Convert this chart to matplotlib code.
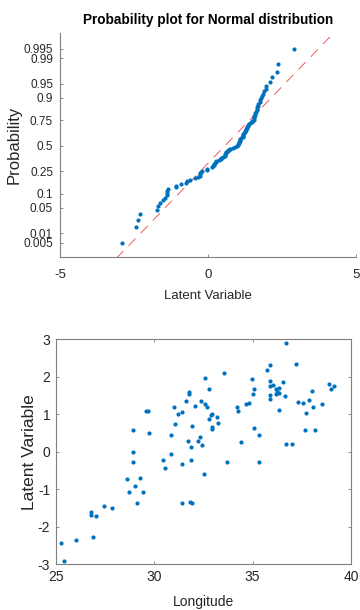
import numpy as np
import matplotlib
matplotlib.use('Agg')
import matplotlib.pyplot as plt
from statistics import NormalDist
import warnings
warnings.filterwarnings('ignore')

longitude = np.array([
    25.27, 25.41, 26.02, 26.79, 26.79, 26.90, 27.03, 27.47, 27.84, 28.64,
    28.72, 28.94, 28.94, 28.94, 29.03, 29.15, 29.30, 29.45, 29.60, 29.67,
    29.74, 30.47, 30.55, 30.84, 30.84, 30.99, 31.06, 31.21, 31.42, 31.42,
    31.43, 31.64, 31.72, 31.79, 31.79, 31.80, 31.87, 31.87, 31.94, 31.94,
    32.09, 32.25, 32.31, 32.38, 32.45, 32.52, 32.60, 32.60, 32.67, 32.80,
    32.80, 32.87, 32.94, 32.96, 32.96, 33.18, 33.24, 33.55, 33.70, 34.21,
    34.28, 34.43, 34.65, 34.80, 34.95, 35.02, 35.09, 35.09, 35.31, 35.31,
    35.75, 35.90, 35.90, 35.90, 35.90, 35.90, 36.05, 36.19, 36.19, 36.26,
    36.34, 36.34, 36.34, 36.56, 36.63, 36.70, 36.70, 37.00, 37.21, 37.29,
    37.58, 37.65, 37.73, 37.87, 38.02, 38.09, 38.17, 38.53, 38.90, 38.97,
    39.12])
latent = np.array([
    -2.44, -2.91, -2.36, -1.61, -1.69, -2.29, -1.71, -1.45, -1.51, -0.74,
    -1.08, 0.59, -0.02, -0.27, -0.92, -1.37, -0.71, -1.07, 1.08, 1.09,
    0.50, -0.21, -0.43, 0.44, -0.05, 1.19, 0.75, 1.00, 1.05, -0.33,
    -1.37, 1.34, 0.28, 1.58, 1.54, -1.34, 0.13, -0.22, -1.38, 0.69,
    1.23, 0.28, 0.38, 1.36, 0.18, -0.61, 1.97, 1.26, 1.18, 1.67,
    0.86, 0.97, 1.00, 0.67, 0.61, 0.92, 0.76, 2.09, -0.27, 1.18,
    1.08, 0.25, 1.26, 1.30, 1.95, 1.54, 1.68, 0.62, 0.45, -0.27,
    2.17, 2.32, 1.89, 1.74, 1.50, 1.41, 1.78, 1.66, 1.54, 1.59,
    1.12, 1.70, 1.56, 1.87, 1.49, 2.89, 0.20, 0.20, 2.35, 1.32,
    1.31, 0.57, 1.04, 1.38, 1.62, 1.18, 0.58, 1.28, 1.81, 1.67,
    1.74])

prob_ticks = [0.005, 0.01, 0.05, 0.1, 0.25, 0.5, 0.75, 0.9, 0.95, 0.99, 0.995]
prob_labels = ['0.005', '0.01', '0.05', '0.1', '0.25', '0.5', '0.75', '0.9',
               '0.95', '0.99', '0.995']

blau = '#0072BD'
grau = '#262626'
achse = '#7f7f7f'
schrift = ['Liberation Sans', 'DejaVu Sans']

nd = NormalDist()
fig = plt.figure(figsize=(3.6, 6.1), dpi=100)

# plot 1: Normalverteilungsplot
ax1 = fig.add_axes([60/360, 1 - 257/610, 296/360, 224/610])
xs = np.sort(latent)
n = len(xs)
z = np.array([nd.inv_cdf((i - 0.5) / n) for i in range(1, n + 1)])
mu, sig = xs.mean(), xs.std(ddof=1)
zz = np.linspace(-4, 4, 50)
ax1.plot(mu + sig * zz, zz, '--', color='#f04040', linewidth=0.6, dashes=(12, 9))
ax1.plot(xs, z, 'o', color=blau, markersize=3, markeredgewidth=0)
ax1.set_xlim(-5, 5)
ax1.set_ylim(-2.96, 3.0)
ax1.set_xticks([-5, 0, 5])
ax1.set_xticklabels(['-5', '0', '5'], family=schrift, fontsize=9.5, color=grau)
ax1.set_yticks([nd.inv_cdf(p) for p in prob_ticks])
ax1.set_yticklabels(prob_labels, family=schrift, fontsize=8.5, color=grau)
ax1.spines['top'].set_visible(False)
ax1.spines['right'].set_visible(False)
for s in ['left', 'bottom']:
    ax1.spines[s].set_color(achse)
    ax1.spines[s].set_linewidth(0.8)
ax1.tick_params(direction='in', length=2.5, width=0.6, color=achse)
ax1.tick_params(axis='x', pad=9)
ax1.tick_params(axis='y', pad=5)
fig.text(208/360, 1 - 20/610, 'Probability plot for Normal distribution',
         ha='center', va='center', fontsize=9.8, fontweight='bold',
         family=schrift, color='black')
fig.text(208/360, 1 - 296/610, 'Latent Variable', ha='center', va='center',
         fontsize=9.5, family=schrift, color=grau)
fig.text(14/360, 1 - 145/610, 'Probability', ha='center', va='center',
         rotation=90, fontsize=12, family=schrift, color=grau)

# plot 2: Streudiagramm
ax2 = fig.add_axes([55.7/360, 46/610, 295.3/360, 224.7/610])
ax2.plot(longitude, latent, 'o', color=blau, markersize=3, markeredgewidth=0)
ax2.set_xlim(25, 40)
ax2.set_ylim(-3, 3)
ax2.set_xticks([25, 30, 35, 40])
ax2.set_xticklabels(['25', '30', '35', '40'], family=schrift, fontsize=10, color=grau)
ax2.set_yticks([-3, -2, -1, 0, 1, 2, 3])
ax2.set_yticklabels(['-3', '-2', '-1', '0', '1', '2', '3'], family=schrift,
                    fontsize=10, color=grau)
for s in ax2.spines.values():
    s.set_color(achse)
    s.set_linewidth(0.8)
ax2.tick_params(direction='in', length=2.5, width=0.6, color=achse,
                top=True, right=True)
ax2.tick_params(axis='x', pad=4)
ax2.tick_params(axis='y', pad=4)
fig.text(203/360, 1 - 602/610, 'Longitude', ha='center', va='center',
         fontsize=10, family=schrift, color=grau)
fig.text(29/360, 1 - 452/610, 'Latent Variable', ha='center', va='center',
         rotation=90, fontsize=12.5, family=schrift, color=grau)

plt.savefig('out.png', dpi=100)
